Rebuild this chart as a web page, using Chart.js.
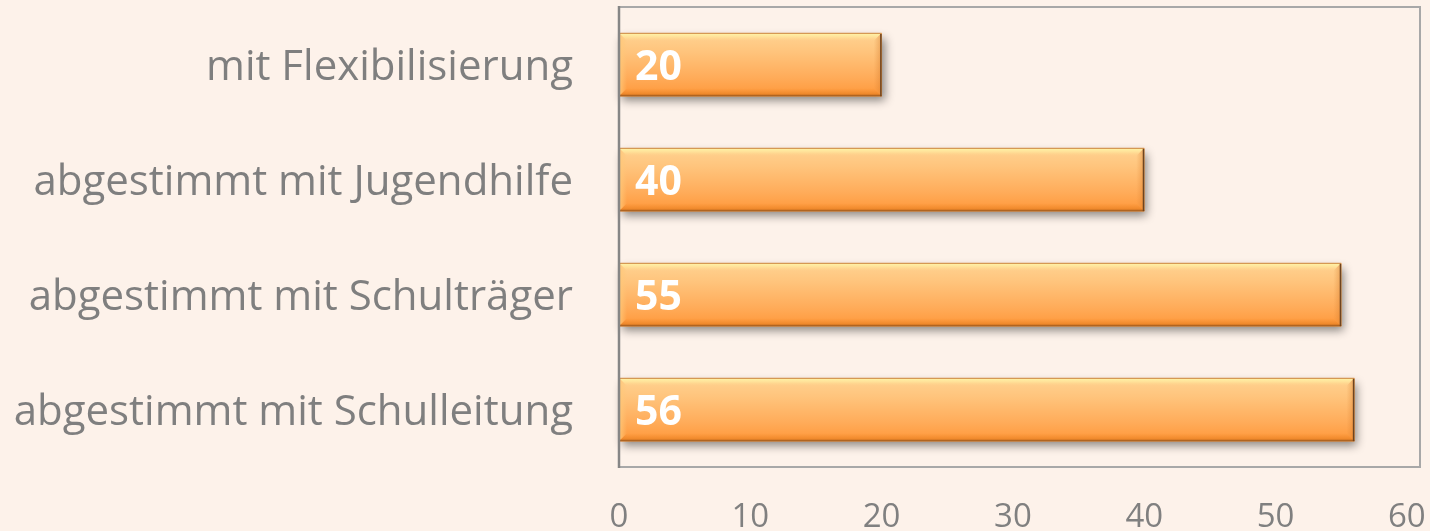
<!DOCTYPE html>
<html><head><meta charset="utf-8">
<script src="https://cdn.jsdelivr.net/npm/chart.js@4/dist/chart.umd.min.js"></script>
<style>
html,body{margin:0;padding:0;background:#fdf2ea;}
#wrap{width:1430px;height:531px;position:relative;}
</style></head>
<body><div id="wrap"><canvas id="c" width="1430" height="531"></canvas></div>
<script>
const categories = ["mit Flexibilisierung", "abgestimmt mit Jugendhilfe", "abgestimmt mit Schulträger", "abgestimmt mit Schulleitung"];
const values = [20, 40, 55, 56];
const xTicks = [0, 10, 20, 30, 40, 50, 60];

const FONT = "'Open Sans', sans-serif";
const BAR_PCT = 0.55;

function barBox(el) {
  const p = el.getProps(['x','y','base','height'], true);
  const x0 = Math.min(p.base, p.x), x1 = Math.max(p.base, p.x);
  return { x0, x1, y0: p.y - p.height/2, y1: p.y + p.height/2, cy: p.y };
}

function barGradient(c) {
  const chart = c.chart, ys = chart.scales.y;
  if (!ys || c.dataIndex === undefined) return '#ffad5c';
  const cy = ys.getPixelForValue(c.dataIndex);
  const step = Math.abs(ys.getPixelForValue(1) - ys.getPixelForValue(0));
  const h = step * BAR_PCT;
  if (!isFinite(cy) || !isFinite(h) || h <= 0) return '#ffad5c';
  const g = chart.ctx.createLinearGradient(0, cy - h/2, 0, cy + h/2);
  g.addColorStop(0, '#ffd392');
  g.addColorStop(0.3, '#ffc47c');
  g.addColorStop(0.7, '#ffac5a');
  g.addColorStop(1, '#ff983a');
  return g;
}

const labelShift = {
  id: 'labelShift',
  beforeDraw(chart) {
    const items = chart.scales.y.getLabelItems();
    items.forEach(it => {
      if (!it._shifted) { it.options.translation[1] += 4; it._shifted = true; }
    });
  }
};

const barFx = {
  id: 'barFx',
  beforeDatasetsDraw(chart) {
    const ctx = chart.ctx;
    chart.getDatasetMeta(0).data.forEach(el => {
      const r = barBox(el);
      ctx.save();
      ctx.shadowColor = 'rgba(0,0,0,0.45)';
      ctx.shadowBlur = 9;
      ctx.shadowOffsetX = 3;
      ctx.shadowOffsetY = 5;
      ctx.fillStyle = '#e89a50';
      ctx.fillRect(r.x0, r.y0, r.x1 - r.x0, r.y1 - r.y0);
      ctx.restore();
    });
  },
  afterDatasetsDraw(chart) {
    const ctx = chart.ctx;
    chart.getDatasetMeta(0).data.forEach((el, i) => {
      const { x0, x1, y0, y1, cy } = barBox(el);
      const b = 8;
      ctx.save();
      let g = ctx.createLinearGradient(0, y0, 0, y0 + b);
      g.addColorStop(0, 'rgba(255,248,170,1)');
      g.addColorStop(0.5, 'rgba(255,236,160,0.6)');
      g.addColorStop(1, 'rgba(255,215,140,0)');
      ctx.fillStyle = g;
      ctx.beginPath(); ctx.moveTo(x0, y0); ctx.lineTo(x1, y0); ctx.lineTo(x1 - b, y0 + b); ctx.lineTo(x0 + b, y0 + b); ctx.closePath(); ctx.fill();
      g = ctx.createLinearGradient(x0, 0, x0 + b, 0);
      g.addColorStop(0, 'rgba(255,200,120,0.9)');
      g.addColorStop(1, 'rgba(255,200,120,0)');
      ctx.fillStyle = g;
      ctx.beginPath(); ctx.moveTo(x0, y0); ctx.lineTo(x0 + b, y0 + b); ctx.lineTo(x0 + b, y1 - b); ctx.lineTo(x0, y1); ctx.closePath(); ctx.fill();
      g = ctx.createLinearGradient(x1 - b, 0, x1, 0);
      g.addColorStop(0, 'rgba(220,130,50,0)');
      g.addColorStop(1, 'rgba(210,120,40,0.45)');
      ctx.fillStyle = g;
      ctx.beginPath(); ctx.moveTo(x1, y0); ctx.lineTo(x1 - b, y0 + b); ctx.lineTo(x1 - b, y1 - b); ctx.lineTo(x1, y1); ctx.closePath(); ctx.fill();
      g = ctx.createLinearGradient(0, y1 - b, 0, y1);
      g.addColorStop(0, 'rgba(240,130,30,0)');
      g.addColorStop(1, 'rgba(215,115,25,0.7)');
      ctx.fillStyle = g;
      ctx.beginPath(); ctx.moveTo(x0, y1); ctx.lineTo(x1, y1); ctx.lineTo(x1 - b, y1 - b); ctx.lineTo(x0 + b, y1 - b); ctx.closePath(); ctx.fill();
      ctx.strokeStyle = '#d08c48';
      ctx.lineWidth = 1;
      ctx.strokeRect(x0 + 0.5, y0 + 0.5, x1 - x0 - 1, y1 - y0 - 1);
      ctx.strokeStyle = '#b06420';
      ctx.lineWidth = 1.5;
      ctx.beginPath(); ctx.moveTo(x0, y1 - 0.75); ctx.lineTo(x1, y1 - 0.75); ctx.stroke();
      ctx.strokeStyle = '#6e4420';
      ctx.beginPath(); ctx.moveTo(x1 - 0.75, y0 + 1); ctx.lineTo(x1 - 0.75, y1); ctx.stroke();
      ctx.fillStyle = '#ffffff';
      ctx.font = "bold 41px " + FONT;
      ctx.textAlign = 'left';
      ctx.textBaseline = 'middle';
      ctx.fillText(String(values[i]), x0 + 16, cy + 4);
      ctx.restore();
    });
    const a = chart.chartArea;
    ctx.save();
    ctx.strokeStyle = '#a8a8a8';
    ctx.lineWidth = 2;
    ctx.strokeRect(a.left, a.top, a.right - a.left, a.bottom - a.top);
    ctx.strokeStyle = '#868686';
    ctx.lineWidth = 2.5;
    ctx.beginPath(); ctx.moveTo(a.left, a.top - 1); ctx.lineTo(a.left, a.bottom + 1); ctx.stroke();
    ctx.restore();
  }
};

const bgPlugin = {
  id: 'bg',
  beforeDraw(chart) {
    const ctx = chart.ctx;
    ctx.save(); ctx.fillStyle = '#fdf2ea'; ctx.fillRect(0, 0, chart.width, chart.height); ctx.restore();
  }
};

new Chart(document.getElementById('c'), {
  type: 'bar',
  data: {
    labels: categories,
    datasets: [{
      data: values,
      backgroundColor: barGradient,
      borderWidth: 0,
      categoryPercentage: 1,
      barPercentage: BAR_PCT
    }]
  },
  options: {
    indexAxis: 'y',
    responsive: false,
    animation: false,
    devicePixelRatio: 1,
    layout: { padding: { top: 7, right: 10, left: 0, bottom: 0 } },
    plugins: { legend: { display: false }, tooltip: { enabled: false } },
    scales: {
      x: {
        min: 0, max: 61,
        afterBuildTicks(scale) { scale.ticks = xTicks.map(v => ({ value: v })); },
        afterFit(scale) { scale.height = 64; scale.paddingLeft = 0; scale.paddingRight = 0; },
        grid: { display: false, drawTicks: false },
        border: { display: false },
        ticks: { color: '#808080', font: { family: FONT, size: 33 }, padding: 31, maxRotation: 0, autoSkip: false }
      },
      y: {
        afterFit(scale) { scale.width = 619; scale.paddingTop = 0; scale.paddingBottom = 0; },
        grid: { display: false, drawTicks: false },
        border: { display: false },
        ticks: { color: '#7f7f7f', font: { family: FONT, size: 42 }, padding: 46, autoSkip: false }
      }
    }
  },
  plugins: [bgPlugin, labelShift, barFx]
});
</script></body></html>
